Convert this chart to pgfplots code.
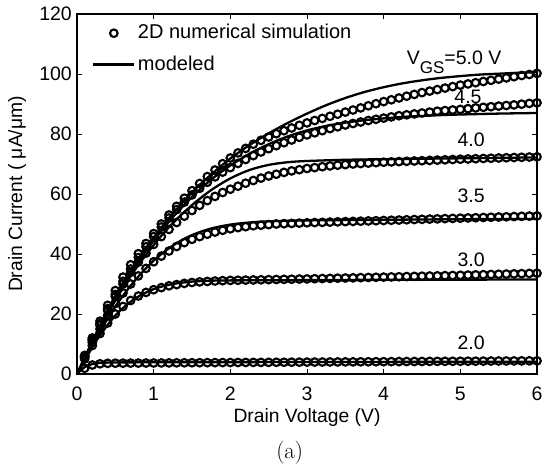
\documentclass[border=0pt]{standalone}
\usepackage{fontspec}
\usepackage{pgfplots}
\usepackage{pgfplotstable}
\pgfplotsset{compat=1.18}
\newfontfamily\arial{Liberation Sans}
\pgfplotsset{
  legcirc/.style={legend image code/.code={\path[draw=none,fill=none] (0pt,-4pt) rectangle (41pt,4pt); \draw[##1] plot coordinates {(20.5pt,0pt)};}},
  legline/.style={legend image code/.code={\draw[##1] (0pt,0pt) -- (41pt,0pt);}},
}

\pgfplotstableread{
V c20 c30 c35 c40 c45 c50
0.1 1.9 5.0 5.5 5.8 5.9 6.2
0.2 3.0 9.5 10.5 11.2 11.5 12.0
0.3 3.4 13.5 15.0 16.3 16.8 17.6
0.4 3.55 17.0 19.5 21.2 21.8 22.9
0.5 3.6 20.0 23.5 25.8 26.5 27.8
0.6 3.61 22.5 27.0 30.0 30.9 32.3
0.7 3.63 24.5 30.0 33.9 35.0 36.4
0.8 3.64 26.0 32.7 37.3 38.8 40.1
0.9 3.66 27.2 35.2 40.3 42.4 43.5
1.0 3.67 28.1 37.4 43.2 45.8 46.8
1.1 3.69 28.8 39.3 45.8 49.0 50.0
1.2 3.70 29.4 41.0 48.2 52.0 53.0
1.3 3.72 29.8 42.5 50.5 54.8 55.9
1.4 3.73 30.2 43.8 52.6 57.3 58.6
1.5 3.75 30.5 44.9 54.5 59.7 61.1
1.6 3.76 30.7 45.8 56.2 61.9 63.5
1.7 3.78 30.85 46.6 57.8 63.9 65.8
1.8 3.79 31.0 47.3 59.2 65.7 68.0
1.9 3.81 31.1 47.9 60.5 67.3 70.1
2.0 3.82 31.2 48.4 61.6 68.8 72.0
2.1 3.84 31.25 48.8 62.6 70.2 73.7
2.2 3.85 31.3 49.1 63.6 71.5 75.2
2.3 3.86 31.35 49.4 64.5 72.8 76.6
2.4 3.88 31.4 49.6 65.3 74.0 77.9
2.5 3.89 31.45 49.8 66.0 75.1 79.0
2.6 3.91 31.5 50.0 66.6 76.1 80.1
2.7 3.92 31.55 50.1 67.2 77.1 81.1
2.8 3.94 31.6 50.2 67.7 78.0 82.0
2.9 3.95 31.65 50.3 68.1 78.9 82.9
3.0 3.96 31.7 50.4 68.5 79.7 83.7
3.1 3.98 31.76 50.48 68.8 80.4 84.5
3.2 3.99 31.82 50.55 69.1 81.1 85.2
3.3 4.01 31.88 50.63 69.35 81.8 85.9
3.4 4.02 31.94 50.71 69.6 82.4 86.6
3.5 4.04 32.0 50.79 69.8 83.0 87.3
3.6 4.05 32.06 50.86 70.0 83.5 88.0
3.7 4.07 32.12 50.94 70.15 84.0 88.7
3.8 4.08 32.18 51.02 70.3 84.5 89.4
3.9 4.10 32.24 51.09 70.45 84.9 90.1
4.0 4.11 32.3 51.17 70.6 85.3 90.8
4.1 4.12 32.36 51.25 70.7 85.7 91.4
4.2 4.14 32.42 51.32 70.8 86.1 92.0
4.3 4.15 32.48 51.40 70.9 86.4 92.6
4.4 4.17 32.54 51.48 71.0 86.7 93.2
4.5 4.18 32.6 51.56 71.1 87.0 93.8
4.6 4.20 32.66 51.63 71.2 87.3 94.3
4.7 4.21 32.72 51.71 71.3 87.6 94.8
4.8 4.23 32.78 51.79 71.4 87.8 95.3
4.9 4.24 32.84 51.86 71.5 88.0 95.8
5.0 4.25 32.9 51.94 71.6 88.2 96.3
5.1 4.27 32.97 52.02 71.68 88.45 96.7
5.2 4.28 33.04 52.09 71.76 88.7 97.1
5.3 4.30 33.11 52.17 71.84 88.9 97.5
5.4 4.31 33.18 52.25 71.92 89.1 97.9
5.5 4.33 33.25 52.33 72.0 89.3 98.3
5.6 4.34 33.32 52.40 72.08 89.5 98.7
5.7 4.36 33.39 52.48 72.16 89.7 99.1
5.8 4.37 33.46 52.56 72.24 89.95 99.5
5.9 4.39 33.53 52.63 72.32 90.2 99.85
6.0 4.40 33.6 52.7 72.4 90.4 100.2
}\simdata

\begin{document}
\arial\fontsize{19.5}{23}\selectfont
\begin{tikzpicture}[x=1pt,y=1pt]
\useasboundingbox (-77,-90) rectangle (467,374);
\begin{axis}[
  scale only axis, width=460pt, height=360pt,
  at={(0,0)}, anchor=south west,
  xmin=0, xmax=6, ymin=0, ymax=120,
  xtick={0,1,2,3,4,5,6}, ytick={0,20,40,60,80,100,120},
  tick align=inside, major tick length=5pt,
  axis line style={line width=1.1pt},
  every tick/.style={line width=0.9pt, black},
  /pgf/number format/assume math mode=true,
  clip=false,
  xticklabel style={anchor=base, yshift=-26pt},
  yticklabel style={inner sep=0pt, xshift=-5pt},
  xlabel={Drain Voltage (V)},
  ylabel={Drain Current ( μA/μm)},
  xlabel style={at={(axis description cs:0.5,0)}, anchor=base, yshift=-48pt, font=\fontsize{19.3}{23}\selectfont},
  ylabel style={at={(axis description cs:-0.1304,0.5)}, anchor=center, rotate=0, font=\fontsize{19.3}{23}\selectfont},
  legend style={draw=none, fill=none, at={(axis description cs:0.0326,0.903)}, anchor=west,
    row sep=9pt, font=\fontsize{20}{23}\selectfont,
    inner sep=0pt, nodes={inner sep=2.5pt}},
  legend cell align=left,
  circ/.style={only marks, mark=o, mark size=3.8pt, line width=2.1pt, black},
  modl/.style={no marks, line width=2.3pt, black, smooth},
]
\addplot[circ, legcirc] table[x=V, y=c20] {\simdata};
\addlegendentry{2D numerical simulation}
\addplot[modl, legline] coordinates {(0,0) (0.1,2.3) (0.2,3.3) (0.3,3.7) (0.5,3.85) (1,3.9) (2,3.95) (3,4.0) (4,4.03) (5,4.07) (6,4.1)};
\addlegendentry{modeled}
\addplot[circ, forget plot] table[x=V, y=c30] {\simdata};
\addplot[circ, forget plot] table[x=V, y=c35] {\simdata};
\addplot[circ, forget plot] table[x=V, y=c40] {\simdata};
\addplot[circ, forget plot] table[x=V, y=c45] {\simdata};
\addplot[circ, forget plot] table[x=V, y=c50] {\simdata};
\addplot[modl, forget plot] coordinates {(0,0) (0.25,11) (0.5,19.5) (0.75,25) (1.0,28.3) (1.25,30) (1.5,30.8) (1.75,31.1) (2.0,31.2) (3,31.3) (4,31.4) (5,31.45) (6,31.5)};
\addplot[modl, forget plot] coordinates {(0,0) (0.25,12) (0.5,22.5) (0.75,31) (1.0,37.8) (1.25,42.8) (1.5,46.3) (1.75,48.5) (2.0,49.8) (2.25,50.5) (2.5,50.9) (3,51.2) (4,51.4) (5,51.6) (6,51.7)};
\addplot[modl, forget plot] coordinates {(0,0) (0.25,13) (0.5,24.5) (0.75,34.5) (1.0,43) (1.25,50.3) (1.5,56.3) (1.75,61.3) (2.0,65.2) (2.25,68) (2.5,69.7) (2.75,70.6) (3,71.0) (3.5,71.4) (4,71.6) (5,71.9) (6,72.2)};
\addplot[modl, forget plot] coordinates {(0,0) (0.25,13.3) (0.5,25.5) (0.75,35.5) (1.0,44.5) (1.25,52.3) (1.5,59) (1.75,64.8) (2.0,69.5) (2.25,73.4) (2.5,76.6) (2.75,79.2) (3.0,81.2) (3.25,82.7) (3.5,83.8) (3.75,84.6) (4.0,85.2) (4.25,85.7) (4.5,86.0) (4.75,86.3) (5.0,86.5) (5.5,86.8) (6,87.0)};
\addplot[modl, forget plot] coordinates {(0,0) (0.25,13.5) (0.5,26) (0.75,36.5) (1.0,45.5) (1.25,53.5) (1.5,60.5) (1.75,66.5) (2.0,71.8) (2.25,76.3) (2.5,80.2) (2.75,83.7) (3.0,86.8) (3.25,89.6) (3.5,92.0) (3.75,94.0) (4.0,95.6) (4.25,96.9) (4.5,97.9) (4.75,98.7) (5.0,99.3) (5.25,99.8) (5.5,100.1) (5.75,100.4) (6.0,100.6)};
\begingroup\fontsize{19.5}{22}\selectfont
\node[anchor=base west, inner sep=0pt] at (axis cs:4.30,103) {V{\fontsize{17}{19}\selectfont\raisebox{-9pt}{GS}}=5.0 V};
\node[inner sep=0pt] at (axis cs:5.10,92.3) {4.5};
\node[inner sep=0pt] at (axis cs:5.14,78) {4.0};
\node[inner sep=0pt] at (axis cs:5.14,59.3) {3.5};
\node[inner sep=0pt] at (axis cs:5.14,38) {3.0};
\node[inner sep=0pt] at (axis cs:5.14,10.3) {2.0};
\endgroup
\end{axis}
\node[anchor=base, font=\rmfamily\fontsize{23}{26}\selectfont] at (212.7,-84) {(a)};
\end{tikzpicture}
\end{document}
